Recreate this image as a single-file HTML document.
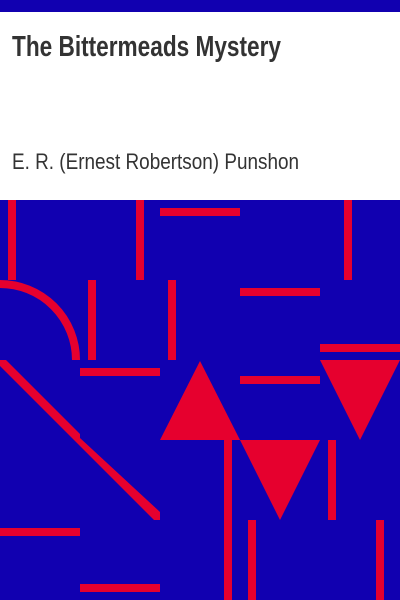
<!DOCTYPE html>
<html><head><meta charset="utf-8"><style>
html,body{margin:0;padding:0;width:400px;height:600px;overflow:hidden;background:#fff}
svg{display:block}
</style></head><body>
<svg width="400" height="600" viewBox="0 0 400 600">
<rect x="0" y="0" width="400" height="12" fill="#1100b0"/>
<text x="12" y="56" font-family="Liberation Sans, sans-serif" font-weight="bold" font-size="29" fill="#333" textLength="269" lengthAdjust="spacingAndGlyphs">The Bittermeads Mystery</text>
<text x="12" y="169" font-family="Liberation Sans, sans-serif" font-size="22" fill="#333" textLength="287" lengthAdjust="spacingAndGlyphs">E. R. (Ernest Robertson) Punshon</text>
<g>
<rect x="0" y="200" width="400" height="400" fill="#1100b0"/>
<g fill="#e6002e">
<rect x="8" y="200" width="8" height="80"/>
<rect x="136" y="200" width="8" height="80"/>
<rect x="160" y="208" width="80" height="8"/>
<rect x="344" y="200" width="8" height="80"/>
<rect x="240" y="288" width="80" height="8"/>
<rect x="88" y="280" width="8" height="80"/>
<rect x="168" y="280" width="8" height="80"/>
<rect x="80" y="368" width="80" height="8"/>
<rect x="240" y="376" width="80" height="8"/>
<rect x="320" y="344" width="80" height="8"/>
<polygon points="200,361 240,440 160,440"/>
<polygon points="320,360 400,360 360,440"/>
<polygon points="240,440 320,440 280,520"/>
<rect x="224" y="440" width="8" height="160"/>
<rect x="328" y="440" width="8" height="80"/>
<rect x="248" y="520" width="8" height="80"/>
<rect x="376" y="520" width="8" height="80"/>
<rect x="0" y="528" width="80" height="8"/>
<rect x="80" y="584" width="80" height="8"/>
<polygon points="0,360 6,360 80,434 80,446 0,366"/>
<polygon points="80,438 160,512 160,520 154,520 80,446"/>
</g>
<path d="M0,284 A76,76 0 0 1 76,360" fill="none" stroke="#e6002e" stroke-width="8"/>
</g>
</svg>
</body></html>
